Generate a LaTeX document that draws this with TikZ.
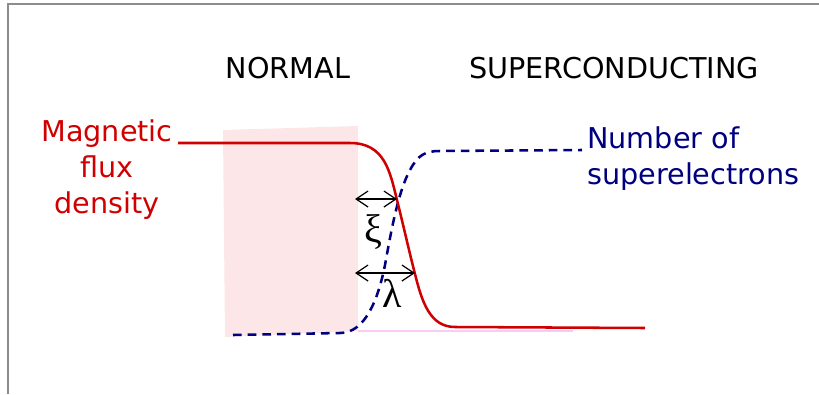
\documentclass[tikz,border=0pt]{standalone}
\usepackage{fontspec}
\setmainfont{DejaVu Sans}
\newfontfamily\greekfont{Liberation Serif}
\usetikzlibrary{arrows.meta}
\definecolor{fluxred}{HTML}{D00000}
\definecolor{navyblue}{HTML}{00007F}
\definecolor{pinkfill}{HTML}{FCE6E8}
\definecolor{pinkline}{HTML}{F8CCF6}
\definecolor{framegray}{HTML}{8C8C8C}
\tikzset{
  lbl/.style={inner sep=0pt, font=\fontsize{21.5}{27}\selectfont},
  fluxcurve/.style={fluxred, line width=1.9pt},
  supercurve/.style={navyblue, line width=1.9pt, dash pattern=on 6.5pt off 4.5pt},
  lenarrow/.style={black, line width=0.9pt, {Straight Barb[length=9pt,width=12pt]}-{Straight Barb[length=9pt,width=12pt]}},
  greek/.style={inner sep=0pt, font=\greekfont\fontsize{30}{32}\selectfont}
}
\begin{document}
\begin{tikzpicture}[x=0.75pt,y=-0.75pt]
\useasboundingbox (0,0) rectangle (819,394);
% frame
\draw[framegray, line width=1.5pt] (8,394) -- (8,4) -- (819,4);
% pink region
\fill[pinkfill] (223,130) -- (358,126) -- (358,331) -- (225,337) -- cycle;
\draw[pinkline, line width=1.5pt] (358,331) -- (573,331);
% titles
\node[lbl] (normal) at (288,68) {NORMAL};
\node[lbl] (super) at (614,68) {SUPERCONDUCTING};
\node[lbl, fluxred, align=center] (flux) at (107,170) {Magnetic\\flux\\density};
\node[lbl, navyblue, align=left, anchor=west] (nse) at (587,159) {Number of\\superelectrons};
% superelectron curve
\draw[supercurve] (233,335) -- (340,333)
  .. controls (365,333) and (378,300) .. (385,265)
  .. controls (391,232) and (398,192) .. (410,170)
  .. controls (418,155) and (425,151) .. (440,151) -- (582,150);
% flux curve
\draw[fluxcurve] (178,143) -- (350,143)
  .. controls (385,143) and (390,172) .. (397,200)
  .. controls (404,228) and (410,255) .. (415,274)
  .. controls (422,302) and (430,327) .. (455,327) -- (645,328);
% length scales
\coordinate (xiL) at (355,199);
\coordinate (xiR) at (397,199);
\coordinate (laL) at (355,273);
\coordinate (laR) at (415,273);
\draw[lenarrow] (xiL) -- (xiR);
\draw[lenarrow] (laL) -- (laR);
\node[greek] (xi) at (373,232) {ξ};
\node[greek] (la) at (392,293) {λ};
\end{tikzpicture}
\end{document}
